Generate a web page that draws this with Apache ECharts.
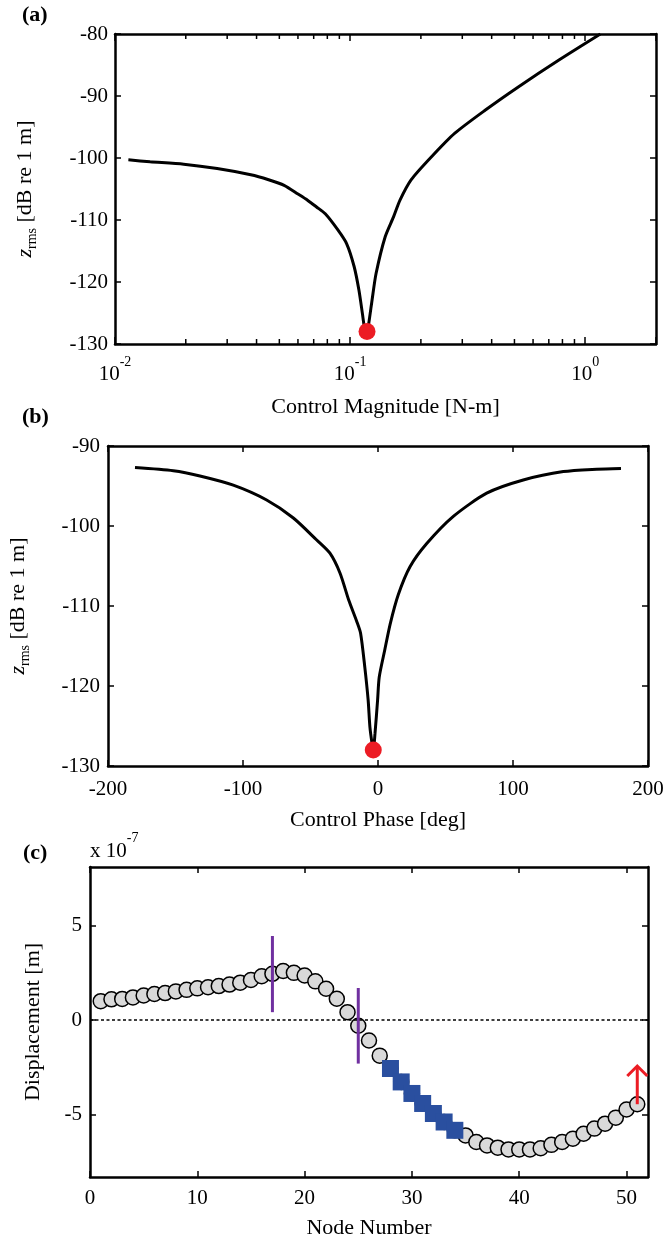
<!DOCTYPE html>
<html>
<head>
<meta charset="utf-8">
<script src="https://cdn.jsdelivr.net/npm/echarts@6/dist/echarts.min.js"></script>
<style>
  html, body { margin: 0; padding: 0; background: #fff; }
  #chart { width: 668px; height: 1243px; }
</style>
</head>
<body>
<div id="chart"></div>
<script>
// ---- (a) radiated level versus control magnitude ----
const magnitude = [0.0114, 0.0141, 0.0196, 0.0272, 0.0378, 0.045, 0.0524, 0.06, 0.0659, 0.072,
  0.0784, 0.0887, 0.0966, 0.104, 0.109, 0.113, 0.115, 0.118, 0.120, 0.124, 0.129, 0.141,
  0.153, 0.163, 0.182, 0.222, 0.279, 0.375, 0.521, 0.773, 1.16];
const magnitudeLevel = [-100.3, -100.6, -101.0, -101.7, -102.7, -103.5, -104.4, -105.8, -106.8, -107.9,
  -109.0, -111.6, -113.8, -117.5, -121.3, -125.3, -127.2, -128.0, -126.7, -122.9, -118.6, -112.7,
  -109.5, -106.8, -103.5, -99.8, -96.0, -92.3, -88.5, -84.2, -80.0];
const magnitudeOptimum = [0.118, -128.0];
const magnitudeRange = [0.01, 2];
const magnitudeLevelRange = [-130, -80];

// ---- (b) radiated level versus control phase ----
const phase = [-180, -151.6, -131.9, -107.2, -82.5, -62.7, -45.4, -35.6, -28.1, -21.7, -15.8,
  -12.9, -9.8, -7.3, -6.0, -4.4, -3.5, -2.2, -0.3, 0.9, 5.0, 9.1, 15.0, 23.7, 36.1, 55.8,
  80.5, 107.6, 137.3, 162.0, 180];
const phaseLevel = [-92.7, -93.1, -93.75, -94.9, -96.75, -99.0, -101.75, -103.4, -105.9, -109.25, -111.9,
  -113.4, -117.6, -121.75, -125.1, -127.2, -128.0, -125.9, -121.75, -118.9, -115.5, -112.2, -108.6,
  -105.1, -102.2, -98.8, -95.9, -94.25, -93.2, -92.9, -92.8];
const phaseOptimum = [-3.5, -128.0];
const phaseRange = [-200, 200];
const phaseLevelRange = [-130, -90];

// ---- (c) displacement along the structure (units of 1e-7 m) ----
const displacement = [1.0, 1.1, 1.12, 1.2, 1.3, 1.38, 1.43, 1.52, 1.6, 1.68,
  1.74, 1.8, 1.88, 1.98, 2.12, 2.32, 2.45, 2.6, 2.5, 2.36,
  2.05, 1.66, 1.13, 0.42, -0.3, -1.08, -1.88, -2.56, -3.27, -3.88,
  -4.41, -4.94, -5.39, -5.83, -6.1, -6.45, -6.63, -6.75, -6.84, -6.84,
  -6.84, -6.78, -6.6, -6.45, -6.27, -6.01, -5.74, -5.48, -5.16, -4.73,
  -4.45];
const nodeNumbers = displacement.map((_, i) => i + 1);
const actuatorNodes = [28, 29, 30, 31, 32, 33, 34];
const sensorNodes = [17, 25];
const sensorLow = [0.42, -2.3];
const sensorHigh = [4.45, 1.7];
const forceNode = 51;
const forceFrom = -4.45;
const forceTo = -2.43;
const nodeRange = [0, 52];
const nodeTicks = [0, 10, 20, 30, 40, 50];
const displacementRange = [-8.3, 8.1];
const displacementTicks = [-5, 0, 5];

// ---- styling ----
const FONT = '"Liberation Serif", "Times New Roman", serif';
const BLACK = '#000';
const RED = '#ec1c24';
const BLUE = '#2a4f9f';
const PURPLE = '#7030a0';

const labelBase = { color: BLACK, fontFamily: FONT, fontSize: 21 };
const nameStyle = { color: BLACK, fontFamily: FONT, fontSize: 22 };
const zRich = {
  z: { color: BLACK, fontFamily: FONT, fontSize: 22, fontStyle: 'italic' },
  s: { color: BLACK, fontFamily: FONT, fontSize: 14, padding: [14, 0, 0, 0] },
  t: { color: BLACK, fontFamily: FONT, fontSize: 22 }
};
const tickStyle = { color: BLACK, width: 1.5 };

function frameAxis(opts) {
  const a = {
    axisLine: { show: true, onZero: false, lineStyle: { color: BLACK, width: 2.5 } },
    axisTick: { show: true, inside: true, length: 6, lineStyle: tickStyle },
    axisLabel: { show: false },
    splitLine: { show: false },
    minorTick: { show: false },
    minorSplitLine: { show: false },
    nameMoveOverlap: false
  };
  return Object.assign(a, opts);
}

// decade minor ticks (2..9 x 10^k) for the log axis
const minorMagnitudeTicks = [];
for (let d = magnitudeRange[0]; d < magnitudeRange[1]; d *= 10) {
  for (let m = 2; m <= 9; m++) {
    const v = m * d;
    if (v < magnitudeRange[1] * 0.999) minorMagnitudeTicks.push(v);
  }
}

function powerLabel(v) {
  const lg = Math.log10(v);
  const e = Math.round(lg);
  if (Math.abs(lg - e) > 1e-6) return '';
  return '{b|10}{s|' + e + '}';
}

const chart = echarts.init(document.getElementById('chart'), null, { renderer: 'canvas' });

const option = {
  animation: false,
  backgroundColor: '#fff',
  grid: [
    { left: 115, top: 34, width: 541, height: 310, containLabel: false, outerBoundsMode: 'none' },
    { left: 108, top: 446, width: 540, height: 320, containLabel: false, outerBoundsMode: 'none' },
    { left: 90, top: 867, width: 558, height: 310, containLabel: false, outerBoundsMode: 'none' }
  ],
  xAxis: [
    frameAxis({
      gridIndex: 0, type: 'log', logBase: 10, min: magnitudeRange[0], max: magnitudeRange[1], position: 'bottom',
      axisTick: { show: true, inside: true, length: 7, lineStyle: tickStyle },
      axisLabel: {
        show: true, margin: 11, formatter: powerLabel,
        rich: {
          b: { color: BLACK, fontFamily: FONT, fontSize: 21 },
          s: { color: BLACK, fontFamily: FONT, fontSize: 14, padding: [0, 0, 24, 0] }
        }
      },
      name: 'Control Magnitude [N-m]', nameLocation: 'middle', nameGap: 52, nameTextStyle: nameStyle
    }),
    frameAxis({
      gridIndex: 0, type: 'log', logBase: 10, min: magnitudeRange[0], max: magnitudeRange[1], position: 'top',
      axisTick: { show: true, inside: true, length: 7, lineStyle: tickStyle }
    }),
    frameAxis({
      gridIndex: 1, type: 'value', min: phaseRange[0], max: phaseRange[1], interval: 100, position: 'bottom',
      axisLabel: Object.assign({ show: true, margin: 13 }, labelBase),
      name: 'Control Phase [deg]', nameLocation: 'middle', nameGap: 43, nameTextStyle: nameStyle
    }),
    frameAxis({
      gridIndex: 1, type: 'value', min: phaseRange[0], max: phaseRange[1], interval: 100, position: 'top'
    }),
    frameAxis({
      gridIndex: 2, type: 'value', min: nodeRange[0], max: nodeRange[1], position: 'bottom',
      axisTick: { show: true, inside: true, length: 6, customValues: nodeTicks, lineStyle: tickStyle },
      axisLabel: Object.assign({ show: true, margin: 11, customValues: nodeTicks }, labelBase),
      name: 'Node Number', nameLocation: 'middle', nameGap: 40, nameTextStyle: nameStyle
    }),
    frameAxis({
      gridIndex: 2, type: 'value', min: nodeRange[0], max: nodeRange[1], position: 'top',
      axisTick: { show: true, inside: true, length: 6, customValues: nodeTicks, lineStyle: tickStyle }
    })
  ],
  yAxis: [
    frameAxis({
      gridIndex: 0, type: 'value', min: magnitudeLevelRange[0], max: magnitudeLevelRange[1], interval: 10, position: 'left',
      axisLabel: Object.assign({ show: true, margin: 7 }, labelBase),
      name: '{z|z}{s|rms}{t| [dB re 1 m]}', nameLocation: 'middle', nameRotate: 90, nameGap: 76,
      nameTextStyle: Object.assign({ rich: zRich }, nameStyle)
    }),
    frameAxis({
      gridIndex: 0, type: 'value', min: magnitudeLevelRange[0], max: magnitudeLevelRange[1], interval: 10, position: 'right'
    }),
    frameAxis({
      gridIndex: 1, type: 'value', min: phaseLevelRange[0], max: phaseLevelRange[1], interval: 10, position: 'left',
      axisLabel: Object.assign({ show: true, margin: 8 }, labelBase),
      name: '{z|z}{s|rms}{t| [dB re 1 m]}', nameLocation: 'middle', nameRotate: 90, nameGap: 76,
      nameTextStyle: Object.assign({ rich: zRich }, nameStyle)
    }),
    frameAxis({
      gridIndex: 1, type: 'value', min: phaseLevelRange[0], max: phaseLevelRange[1], interval: 10, position: 'right'
    }),
    frameAxis({
      gridIndex: 2, type: 'value', min: displacementRange[0], max: displacementRange[1], position: 'left',
      axisTick: { show: true, inside: true, length: 6, customValues: displacementTicks, lineStyle: tickStyle },
      axisLabel: Object.assign({ show: true, margin: 8, customValues: displacementTicks }, labelBase),
      name: 'Displacement [m]', nameLocation: 'middle', nameRotate: 90, nameGap: 46, nameTextStyle: nameStyle
    }),
    frameAxis({
      gridIndex: 2, type: 'value', min: displacementRange[0], max: displacementRange[1], position: 'right',
      axisTick: { show: true, inside: true, length: 6, customValues: displacementTicks, lineStyle: tickStyle }
    })
  ],
  series: [
    // (a)
    {
      type: 'line', xAxisIndex: 0, yAxisIndex: 0, silent: true,
      data: magnitude.map((m, i) => [m, magnitudeLevel[i]]),
      symbol: 'none', smooth: 0.25,
      lineStyle: { color: BLACK, width: 3 }, z: 3
    },
    {
      type: 'scatter', xAxisIndex: 0, yAxisIndex: 0, silent: true,
      data: [magnitudeOptimum], symbol: 'circle', symbolSize: 17,
      itemStyle: { color: RED, opacity: 1 }, z: 4
    },
    {
      type: 'custom', xAxisIndex: 0, yAxisIndex: 0, silent: true, clip: false,
      data: minorMagnitudeTicks.map(v => [v, magnitudeLevelRange[0]]),
      renderItem: function (params, api) {
        const v = api.value(0);
        const b = api.coord([v, magnitudeLevelRange[0]]);
        const t = api.coord([v, magnitudeLevelRange[1]]);
        const st = { stroke: BLACK, lineWidth: 1.5 };
        return {
          type: 'group', children: [
            { type: 'line', shape: { x1: b[0], y1: b[1], x2: b[0], y2: b[1] - 5 }, style: st },
            { type: 'line', shape: { x1: t[0], y1: t[1], x2: t[0], y2: t[1] + 5 }, style: st }
          ]
        };
      },
      z: 2
    },
    // (b)
    {
      type: 'line', xAxisIndex: 2, yAxisIndex: 2, silent: true,
      data: phase.map((p, i) => [p, phaseLevel[i]]),
      symbol: 'none', smooth: 0.25,
      lineStyle: { color: BLACK, width: 3 }, z: 3
    },
    {
      type: 'scatter', xAxisIndex: 2, yAxisIndex: 2, silent: true,
      data: [phaseOptimum], symbol: 'circle', symbolSize: 17,
      itemStyle: { color: RED, opacity: 1 }, z: 4
    },
    // (c) zero reference
    {
      type: 'line', xAxisIndex: 4, yAxisIndex: 4, silent: true, data: [], z: 1,
      markLine: {
        silent: true, symbol: ['none', 'none'], label: { show: false },
        lineStyle: { color: BLACK, width: 1.5, type: [3, 2.5], opacity: 1 },
        data: [{ yAxis: 0 }]
      }
    },
    {
      type: 'scatter', xAxisIndex: 4, yAxisIndex: 4, silent: true,
      data: nodeNumbers.map((n, i) => [n, displacement[i]]),
      symbol: 'circle', symbolSize: 15,
      itemStyle: { color: '#d9d9d9', borderColor: BLACK, borderWidth: 1.5, opacity: 1 }, z: 2
    },
    {
      type: 'scatter', xAxisIndex: 4, yAxisIndex: 4, silent: true,
      data: actuatorNodes.map(n => [n, displacement[n - 1]]),
      symbol: 'rect', symbolSize: 17,
      itemStyle: { color: BLUE, opacity: 1 }, z: 3
    },
    {
      type: 'custom', xAxisIndex: 4, yAxisIndex: 4, silent: true,
      data: sensorNodes.map((n, i) => [n, sensorLow[i], sensorHigh[i]]),
      renderItem: function (params, api) {
        const p0 = api.coord([api.value(0), api.value(1)]);
        const p1 = api.coord([api.value(0), api.value(2)]);
        return {
          type: 'line',
          shape: { x1: p0[0], y1: p0[1], x2: p1[0], y2: p1[1] },
          style: { stroke: PURPLE, lineWidth: 3 }
        };
      },
      z: 4
    },
    {
      type: 'custom', xAxisIndex: 4, yAxisIndex: 4, silent: true, clip: false,
      data: [[forceNode, forceFrom, forceTo]],
      renderItem: function (params, api) {
        const base = api.coord([api.value(0), api.value(1)]);
        const tip = api.coord([api.value(0), api.value(2)]);
        const st = { stroke: RED, lineWidth: 3, fill: null };
        return {
          type: 'group', children: [
            { type: 'line', shape: { x1: base[0], y1: base[1], x2: tip[0], y2: tip[1] }, style: st },
            { type: 'polyline', shape: { points: [[tip[0] - 10, tip[1] + 10], [tip[0], tip[1]], [tip[0] + 10, tip[1] + 10]] }, style: st }
          ]
        };
      },
      z: 5
    }
  ],
  graphic: [
    { type: 'text', x: 22, y: 15, style: { text: '(a)', font: 'bold 22px ' + FONT, fill: BLACK, verticalAlign: 'middle' } },
    { type: 'text', x: 22, y: 417, style: { text: '(b)', font: 'bold 22px ' + FONT, fill: BLACK, verticalAlign: 'middle' } },
    { type: 'text', x: 23, y: 853, style: { text: '(c)', font: 'bold 22px ' + FONT, fill: BLACK, verticalAlign: 'middle' } },
    {
      type: 'text', x: 90, y: 851,
      style: {
        text: '{b|x 10}{s|-7}', fill: BLACK, verticalAlign: 'middle',
        rich: {
          b: { fontFamily: FONT, fontSize: 21, fill: BLACK },
          s: { fontFamily: FONT, fontSize: 14, fill: BLACK, padding: [0, 0, 26, 0] }
        }
      }
    }
  ]
};

chart.setOption(option);
</script>
</body>
</html>
